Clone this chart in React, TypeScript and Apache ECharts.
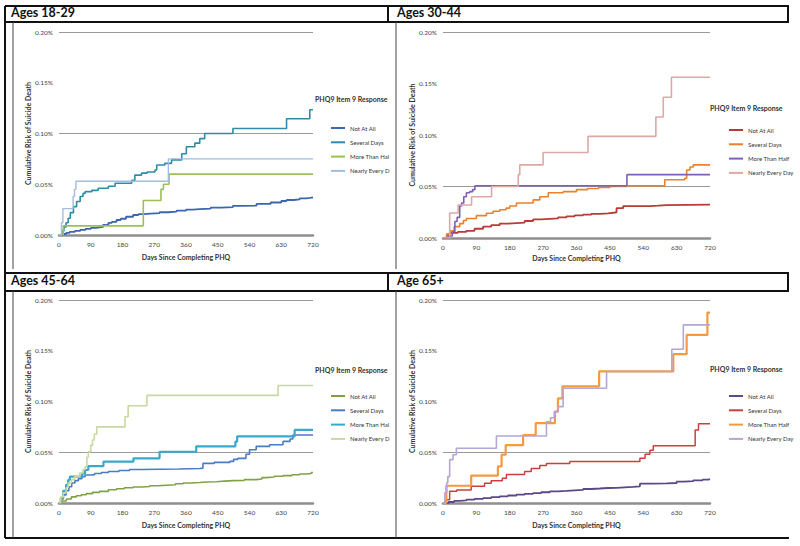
import React, { useEffect, useRef } from 'react';
import * as echarts from 'echarts';

// ---------- labels ----------
const responseLabels = ['Not At All', 'Several Days', 'More Than Half', 'Nearly Every Day'];
const panelTitles = ['Ages 18-29', 'Ages 30-44', 'Ages 45-64', 'Age 65+'];
const legendTitle = 'PHQ9 Item 9 Response';
const xAxisTitle = 'Days Since Completing PHQ';
const yAxisTitle = 'Cumulative Risk of Suicide Death';

// ---------- data: [day, cumulative risk in %] ----------
// Ages 18-29
const p1NotAtAll = [[0,0],[10,0.001],[20,0.002],[30,0.003],[45,0.004],[60,0.005],[75,0.006],[90,0.007],[105,0.0075],[115,0.008],[125,0.01],[140,0.012],[150,0.013],[163,0.0148],[175,0.016],[190,0.018],[210,0.0197],[225,0.0205],[240,0.021],[260,0.0215],[285,0.0224],[310,0.023],[333,0.024],[360,0.025],[380,0.0255],[399,0.026],[430,0.027],[460,0.0275],[493,0.0286],[520,0.029],[560,0.0306],[600,0.032],[630,0.0335],[645,0.0345],[665,0.035],[682,0.036],[700,0.0365],[712,0.037],[720,0.037]];
const p1Several = [[0,0],[8,0.004],[14,0.008],[20,0.012],[26,0.0165],[32,0.022],[41,0.028],[50,0.033],[60,0.038],[68,0.041],[74,0.0427],[93,0.044],[111,0.046],[140,0.048],[159,0.051],[206,0.054],[215,0.059],[234,0.061],[250,0.062],[272,0.064],[277,0.069],[300,0.0706],[319,0.074],[348,0.08],[361,0.087],[385,0.0905],[399,0.095],[413,0.1],[493,0.105],[645,0.1145],[711,0.1234],[720,0.1234]];
const p1MoreHalf = [[0,0],[12,0.009],[239,0.034],[289,0.045],[296,0.05],[312,0.06],[720,0.06]];
const p1Nearly = [[0,0],[7,0.012],[11,0.026],[40,0.038],[44,0.045],[48,0.053],[310,0.075],[720,0.075]];

// Ages 30-44
const p2NotAtAll = [[0,0],[10,0.003],[18,0.005],[40,0.006],[63,0.007],[85,0.009],[108,0.011],[130,0.0125],[153,0.014],[175,0.0145],[198,0.015],[220,0.0165],[243,0.018],[265,0.0185],[288,0.019],[310,0.02],[333,0.021],[355,0.022],[378,0.0227],[400,0.0235],[423,0.024],[445,0.0245],[459,0.025],[468,0.029],[486,0.031],[520,0.031],[558,0.0314],[580,0.032],[603,0.0324],[720,0.0324]];
const p2Several = [[0,0],[10,0.004],[20,0.007],[30,0.011],[45,0.014],[55,0.017],[63,0.019],[90,0.0217],[117,0.024],[135,0.026],[153,0.0275],[170,0.029],[180,0.031],[198,0.034],[243,0.037],[261,0.04],[284,0.044],[324,0.045],[360,0.047],[390,0.048],[420,0.049],[450,0.05],[495,0.0508],[598,0.0566],[652,0.058],[657,0.066],[666,0.069],[675,0.071],[720,0.071]];
const p2MoreHalf = [[0,0],[15,0.002],[25,0.006],[32,0.016],[38,0.02],[45,0.031],[50,0.034],[56,0.04],[63,0.044],[72,0.045],[80,0.047],[86,0.0508],[496,0.0615],[720,0.0615]];
const p2Nearly = [[0,0],[18,0.0243],[41,0.032],[77,0.04],[131,0.05],[203,0.0615],[207,0.071],[270,0.083],[391,0.0987],[574,0.1175],[594,0.1366],[616,0.156],[720,0.156]];

// Ages 45-64
const p3NotAtAll = [[0,0],[8,0.002],[21,0.004],[35,0.006],[49,0.0072],[63,0.0082],[77,0.0092],[95,0.0105],[115,0.0115],[140,0.013],[163,0.014],[185,0.015],[210,0.0157],[235,0.0163],[257,0.017],[280,0.0175],[304,0.018],[330,0.019],[352,0.0197],[375,0.0202],[399,0.0207],[420,0.021],[446,0.0216],[470,0.022],[493,0.0223],[525,0.023],[559,0.0236],[575,0.025],[588,0.0256],[610,0.0263],[635,0.027],[660,0.0278],[682,0.0285],[700,0.029],[715,0.03],[720,0.03]];
const p3Several = [[0,0],[6,0.004],[12,0.008],[20,0.012],[28,0.016],[36,0.0197],[45,0.022],[55,0.024],[65,0.026],[74,0.0276],[90,0.028],[101,0.029],[120,0.03],[140,0.031],[170,0.032],[200,0.033],[234,0.0335],[340,0.034],[399,0.0344],[408,0.039],[440,0.04],[484,0.041],[495,0.043],[507,0.044],[530,0.048],[540,0.0525],[559,0.0558],[597,0.0574],[635,0.0607],[655,0.063],[663,0.067],[720,0.067]];
const p3MoreHalf = [[0,0],[5,0.005],[12,0.012],[20,0.018],[26,0.0227],[31,0.026],[65,0.029],[74,0.0325],[83,0.0364],[126,0.0407],[211,0.044],[285,0.0505],[389,0.0558],[500,0.0605],[505,0.0656],[668,0.072],[720,0.072]];
const p3Nearly = [[0,0],[5,0.006],[12,0.01],[20,0.015],[26,0.0197],[35,0.023],[44,0.026],[59,0.0295],[68,0.033],[74,0.036],[79,0.045],[83,0.0505],[90,0.057],[95,0.062],[100,0.068],[107,0.075],[187,0.085],[196,0.0958],[249,0.106],[621,0.1158],[720,0.1158]];

// Age 65+
const p4NotAtAll = [[0,0],[15,0.001],[30,0.002],[45,0.0025],[63,0.0033],[85,0.004],[108,0.0049],[130,0.0057],[153,0.0066],[175,0.0074],[198,0.0082],[220,0.009],[243,0.0098],[265,0.0106],[288,0.0115],[310,0.012],[333,0.0125],[355,0.013],[378,0.0138],[400,0.0143],[423,0.0148],[445,0.015],[468,0.0154],[490,0.0158],[513,0.0164],[531,0.019],[565,0.0193],[603,0.0197],[630,0.021],[650,0.0215],[675,0.0223],[700,0.023],[715,0.0236],[720,0.0236]];
const p4Several = [[0,0],[5,0.002],[9,0.0033],[18,0.0115],[37,0.0128],[76,0.0164],[112,0.0195],[130,0.022],[160,0.0245],[171,0.028],[220,0.031],[238,0.034],[261,0.037],[279,0.039],[342,0.041],[531,0.044],[545,0.048],[558,0.052],[567,0.0565],[680,0.072],[689,0.078],[720,0.078]];
const p4MoreHalf = [[0,0],[9,0.017],[76,0.027],[148,0.036],[158,0.0476],[169,0.057],[216,0.067],[250,0.0787],[302,0.09],[310,0.103],[322,0.115],[421,0.1296],[621,0.1466],[657,0.1656],[713,0.1876],[720,0.1876]];
const p4Nearly = [[0,0],[5,0.01],[10,0.02],[13,0.026],[18,0.0427],[27,0.0476],[36,0.054],[144,0.066],[279,0.08],[290,0.084],[300,0.09],[310,0.095],[324,0.113],[441,0.1296],[617,0.1515],[648,0.1755],[720,0.1755]];

// visible horizontal reference lines per panel (axis values)
const p1Gridlines = [0.1, 0.2];
const p2Gridlines = [0.05, 0.2];
const p3Gridlines = [0.05, 0.2];
const p4Gridlines = [0.05, 0.2];

// ---------- layout / style ----------
const panels = [
  {
    data: [p1NotAtAll, p1Several, p1MoreHalf, p1Nearly], gridlines: p1Gridlines,
    colors: ['#3D66B0', '#2F8CA8', '#9BC152', '#A3BCE0'], widths: [1.8, 1.6, 1.6, 1.4],
    grid: { left: 59, top: 32, width: 254, height: 203 }, xNameGap: 18,
    legend: { left: 331, top: 124, textWidth: 42 }, legendTitlePos: [315, 99],
  },
  {
    data: [p2NotAtAll, p2Several, p2MoreHalf, p2Nearly], gridlines: p2Gridlines,
    colors: ['#B83B37', '#E8822E', '#7F5FB8', '#DDA8A6'], widths: [1.8, 1.6, 1.6, 1.6],
    grid: { left: 443, top: 32, width: 267, height: 206 }, xNameGap: 16,
    legend: { left: 729, top: 126, textWidth: 48 }, legendTitlePos: [710, 108],
  },
  {
    data: [p3NotAtAll, p3Several, p3MoreHalf, p3Nearly], gridlines: p3Gridlines,
    colors: ['#80A244', '#4A7CC6', '#3AA8CC', '#C7D8A2'], widths: [1.6, 1.6, 2.2, 1.6],
    grid: { left: 59, top: 300, width: 254, height: 203 }, xNameGap: 18,
    legend: { left: 331, top: 392, textWidth: 42 }, legendTitlePos: [315, 370],
  },
  {
    data: [p4NotAtAll, p4Several, p4MoreHalf, p4Nearly], gridlines: p4Gridlines,
    colors: ['#5A4888', '#C8413E', '#F6993F', '#B4A6D6'], widths: [1.8, 1.5, 2.2, 1.6],
    grid: { left: 443, top: 300, width: 267, height: 203 }, xNameGap: 18,
    legend: { left: 729, top: 392, textWidth: 48 }, legendTitlePos: [710, 369],
  },
];

const FONT = 'Lato, "Liberation Sans", Arial, sans-serif';

function buildOption() {
  const grids: any[] = [];
  const xAxes: any[] = [];
  const yAxes: any[] = [];
  const series: any[] = [];
  const legends: any[] = [];
  const graphics: any[] = [];

  panels.forEach((p, i) => {
    grids.push({ ...p.grid, containLabel: false });
    xAxes.push({
      type: 'value', gridIndex: i, min: 0, max: 720, interval: 90,
      axisLine: { show: true, lineStyle: { color: '#8f8f8f', width: 2.5 } },
      axisTick: { show: false }, splitLine: { show: false },
      axisLabel: { fontSize: 6.5, color: '#444', margin: 6, fontFamily: FONT },
      name: xAxisTitle, nameLocation: 'middle', nameGap: p.xNameGap,
      nameTextStyle: { fontSize: 7, color: '#333', fontWeight: 'bold', fontFamily: FONT },
    });
    yAxes.push({
      type: 'value', gridIndex: i, min: 0, max: 0.2, interval: 0.05,
      axisLine: { show: false }, axisTick: { show: false }, splitLine: { show: false },
      axisLabel: { fontSize: 6.5, color: '#444', margin: 6, fontFamily: FONT,
        formatter: (v: number) => v.toFixed(2) + '%' },
      name: yAxisTitle, nameLocation: 'middle', nameGap: 28, nameRotate: 90,
      nameTextStyle: { fontSize: 7, color: '#333', fontWeight: 'bold', fontFamily: FONT },
    });
    const names: string[] = [];
    responseLabels.forEach((lab, k) => {
      const nm = `P${i + 1}|${lab}`;
      names.push(nm);
      const s: any = {
        type: 'line', name: nm, xAxisIndex: i, yAxisIndex: i, step: 'end',
        symbol: 'none', data: p.data[k],
        lineStyle: { color: p.colors[k], width: p.widths[k] },
        itemStyle: { color: p.colors[k] },
        z: 3,
      };
      if (k === 0) {
        s.markLine = {
          silent: true, symbol: 'none', label: { show: false },
          lineStyle: { color: '#9a9a9a', width: 1.2, type: 'solid' },
          data: p.gridlines.map((g) => ({ yAxis: g })),
          z: 1,
        };
      }
      series.push(s);
    });
    legends.push({
      data: names.map((n, k) => ({ name: n, icon: 'rect', itemStyle: { color: p.colors[k] } })),
      orient: 'vertical', left: p.legend.left, top: p.legend.top,
      itemWidth: 14, itemHeight: 2, itemGap: 6.3, padding: 0,
      selectedMode: false,
      formatter: (n: string) => n.split('|')[1],
      textStyle: { fontSize: 6, color: '#333', fontFamily: FONT, lineHeight: 8,
        width: p.legend.textWidth, overflow: 'truncate', ellipsis: '' },
    });
    graphics.push({
      type: 'text', left: p.legendTitlePos[0], top: p.legendTitlePos[1] - 4,
      style: { text: legendTitle, fontSize: 7, fontWeight: 'bold', fill: '#333', fontFamily: FONT },
    });
  });

  // panel frame lines
  const thick = (x1: number, y1: number, x2: number, y2: number) => ({
    type: 'line', shape: { x1, y1, x2, y2 }, style: { stroke: '#111', lineWidth: 2 }, z: 10,
  });
  const thin = (x1: number, y1: number, x2: number, y2: number) => ({
    type: 'line', shape: { x1, y1, x2, y2 }, style: { stroke: '#444', lineWidth: 1 }, z: 10,
  });
  graphics.push(
    thick(5, 6, 789, 6), thick(5, 22, 789, 22),
    thick(5, 273, 789, 273), thick(5, 291, 789, 291),
    thick(5, 538, 789, 538),
    thick(5, 6, 5, 538),
    thick(388, 6, 388, 22), thick(788, 6, 788, 22),
    thick(388, 273, 388, 291), thick(788, 273, 788, 291),
    thin(13, 22, 13, 269), thin(13, 291, 13, 538),
    thin(396, 22, 396, 269), thin(396, 291, 396, 538),
  );
  const titlePos = [[11, 14], [397, 14], [11, 282], [397, 282]];
  panelTitles.forEach((t, i) => {
    graphics.push({
      type: 'text', left: titlePos[i][0], top: titlePos[i][1] - 8, z: 11,
      style: { text: t, fontSize: 12.5, fontWeight: 'bold', fill: '#111', fontFamily: FONT },
    });
  });

  return {
    animation: false,
    backgroundColor: '#ffffff',
    grid: grids, xAxis: xAxes, yAxis: yAxes, series, legend: legends, graphic: graphics,
  };
}

export default function App() {
  const ref = useRef<HTMLDivElement>(null);
  useEffect(() => {
    if (!ref.current) return;
    const chart = echarts.init(ref.current, undefined, { renderer: 'svg' });
    chart.setOption(buildOption() as any);
    return () => chart.dispose();
  }, []);
  return (
    <div
      ref={ref}
      style={{ position: 'fixed', left: 0, top: 0, width: 800, height: 546, background: '#fff' }}
    />
  );
}
